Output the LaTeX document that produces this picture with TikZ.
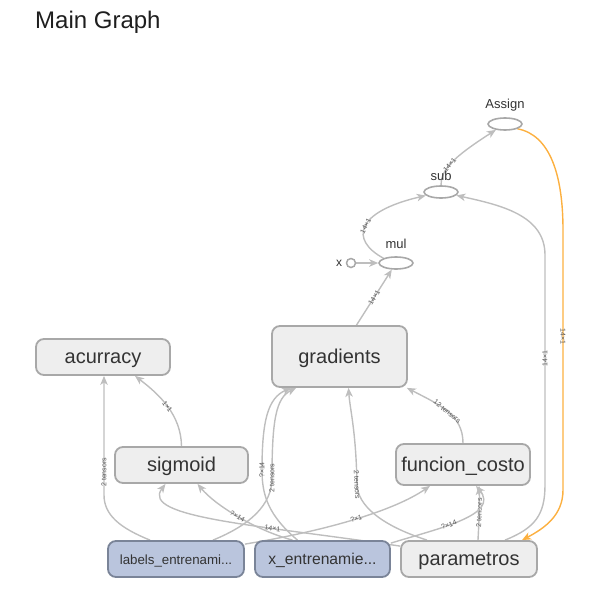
\documentclass[tikz,border=0pt]{standalone}
\usepackage{fontspec}
\setmainfont{Liberation Sans}
\usetikzlibrary{arrows.meta,shapes.geometric}
\definecolor{edgegray}{RGB}{190,190,190}
\definecolor{boxfill}{RGB}{238,238,238}
\definecolor{boxline}{RGB}{168,168,168}
\definecolor{bluefill}{RGB}{186,197,221}
\definecolor{blueline}{RGB}{122,132,152}
\definecolor{txt}{RGB}{51,51,51}
\definecolor{orangeedge}{RGB}{252,176,64}
\definecolor{lbl}{RGB}{85,85,85}
\pgfdeclarelayer{edges}
\pgfsetlayers{edges,main}
\begin{document}
\begin{tikzpicture}[x=1pt,y=-1pt,
  opbox/.style={draw=boxline, fill=boxfill, line width=1.8pt, rounded corners=8pt,
    text=txt, font=\fontsize{20}{24}\selectfont, inner sep=0pt, text height=15pt, text depth=2pt},
  inbox/.style={opbox, draw=blueline, fill=bluefill, font=\fontsize{13.3}{16}\selectfont,
    text height=10pt, text depth=0pt},
  opell/.style={ellipse, draw=boxline, fill=white, line width=1.6pt, minimum width=34pt,
    minimum height=12pt, inner sep=0pt},
  small/.style={text=txt, font=\fontsize{13}{15}\selectfont, inner sep=0pt},
  edge/.style={draw=edgegray, line width=1.4pt, -{Stealth[length=9pt,width=7.5pt,inset=2.5pt]}},
  oedge/.style={edge, draw=orangeedge},
  elabel/.style={font=\fontsize{7}{7}\selectfont, text=lbl, inner sep=0pt, sloped}
]
\useasboundingbox (0,0) rectangle (608,608);

\node[anchor=west, text={rgb,255:red,30;green,30;blue,30}, font=\fontsize{24}{28}\selectfont, inner sep=0pt] (title) at (35,22) {Main Graph};

% ops
\node[opell] (assign) at (505,124) {};
\node[small] (assignlbl) at (505,105) {Assign};
\node[opell] (sub) at (441,192) {};
\node[small] (sublbl) at (441,176) {sub};
\node[opell] (mul) at (396,263) {};
\node[small] (mullbl) at (396,244) {mul};
\node[circle, draw=boxline, fill=white, line width=1.5pt, minimum size=9pt, inner sep=0pt] (xin) at (351,263) {};
\node[small, font=\fontsize{12}{14}\selectfont] (xlbl) at (339,263) {x};

% boxes
\node[opbox, minimum width=134pt, minimum height=36pt] (acurracy) at (103,357) {acurracy};
\node[opbox, minimum width=135pt, minimum height=61pt] (gradients) at (339.5,356.5) {gradients};
\node[opbox, minimum width=133pt, minimum height=36pt] (sigmoid) at (181.5,465) {sigmoid};
\node[opbox, minimum width=134pt, minimum height=41pt] (funcion) at (463,464.5) {funcion\_costo};
\node[inbox, minimum width=136pt, minimum height=36pt] (labels) at (176,559) {labels\_entrenami...};
\node[inbox, minimum width=135pt, minimum height=36pt, font=\fontsize{15.7}{18}\selectfont, text height=11pt, text depth=1pt] (xent) at (322.5,559) {x\_entrenamie...};
\node[opbox, minimum width=136pt, minimum height=36pt] (param) at (469,559) {parametros};

\begin{pgfonlayer}{edges}
% sub -> Assign
\draw[edge] (sub.north) .. controls (441,170) and (452,158) .. (assign) node[elabel,pos=0.45]{14×1};
% mul -> sub
\draw[edge] (mul.north west) .. controls (350,240) and (355,212) .. (sub) node[elabel,pos=0.5]{14×1};
% x -> mul
\draw[edge] (xin) -- (mul);
% gradients -> mul
\draw[edge] ([xshift=17pt]gradients.north) -- (mul) node[elabel,midway]{14×1};
% parametros -> sub
\draw[edge] ([xshift=36pt]param.north) .. controls (535,528) and (545,515) .. (545,485) -- (545,255) node[elabel,pos=0.55]{14×1} .. controls (545,215) and (500,205) .. (sub);
% Assign -> parametros
\draw[oedge] (assign.south east) .. controls (550,135) and (563,175) .. (563,230) -- (563,490) node[elabel,pos=0.41]{14×1} .. controls (563,515) and (545,528) .. ([xshift=53pt]param.north);
% sigmoid -> acurracy
\draw[edge] (sigmoid.north) .. controls (181,415) and (160,395) .. ([xshift=32pt]acurracy.south) node[elabel,pos=0.5]{1×1};
% labels -> acurracy
\draw[edge] ([xshift=-26pt]labels.north) .. controls (120,528) and (104,515) .. (104,495) -- ([xshift=1pt]acurracy.south) node[elabel,pos=0.19]{2 tensors};
% funcion_costo -> gradients
\draw[edge] (funcion.north) .. controls (463,415) and (440,405) .. ([xshift=-1pt]gradients.south east) node[elabel,pos=0.5]{12 tensors};
% x_entrenamiento -> gradients
\draw[edge] ([xshift=-25pt]xent.north) .. controls (268,515) and (262,495) .. (262,470) node[elabel,at end]{?×14} .. controls (262,420) and (268,398) .. ([xshift=20pt]gradients.south west);
% labels -> gradients
\draw[edge] ([xshift=37pt]labels.north) .. controls (250,525) and (272,505) .. (272,478) node[elabel,at end]{2 tensors} .. controls (272,420) and (276,398) .. ([xshift=25pt]gradients.south west);
% parametros -> gradients
\draw[edge] ([xshift=-42pt]param.north) .. controls (380,525) and (358,505) .. (357,485) node[elabel,at end]{2 tensors} .. controls (356,430) and (350,410) .. ([xshift=9pt]gradients.south);
% parametros -> funcion_costo
\draw[edge] ([xshift=9pt]param.north) .. controls (479,520) and (480,505) .. ([xshift=16pt]funcion.south) node[elabel,pos=0.5]{2 tensors};
% x_entrenamiento -> funcion_costo
\draw[edge] ([yshift=-3pt]xent.north east) .. controls (440,528) and (500,515) .. ([xshift=13pt]funcion.south) node[elabel,pos=0.4]{?×14};
% labels -> funcion_costo
\draw[edge] ([yshift=-4pt]labels.north east) .. controls (330,530) and (395,510) .. ([xshift=-33pt]funcion.south) node[elabel,pos=0.5]{?×1};
% x_entrenamiento -> sigmoid
\draw[edge] ([xshift=-30pt]xent.north) .. controls (255,530) and (215,505) .. ([xshift=16pt]sigmoid.south) node[elabel,pos=0.5]{?×14};
% parametros -> sigmoid
\draw[edge] ([yshift=-6pt]param.north west) .. controls (260,525) and (140,518) .. ([xshift=-16pt]sigmoid.south) node[elabel,pos=0.33]{14×1};
\end{pgfonlayer}
\end{tikzpicture}
\end{document}
